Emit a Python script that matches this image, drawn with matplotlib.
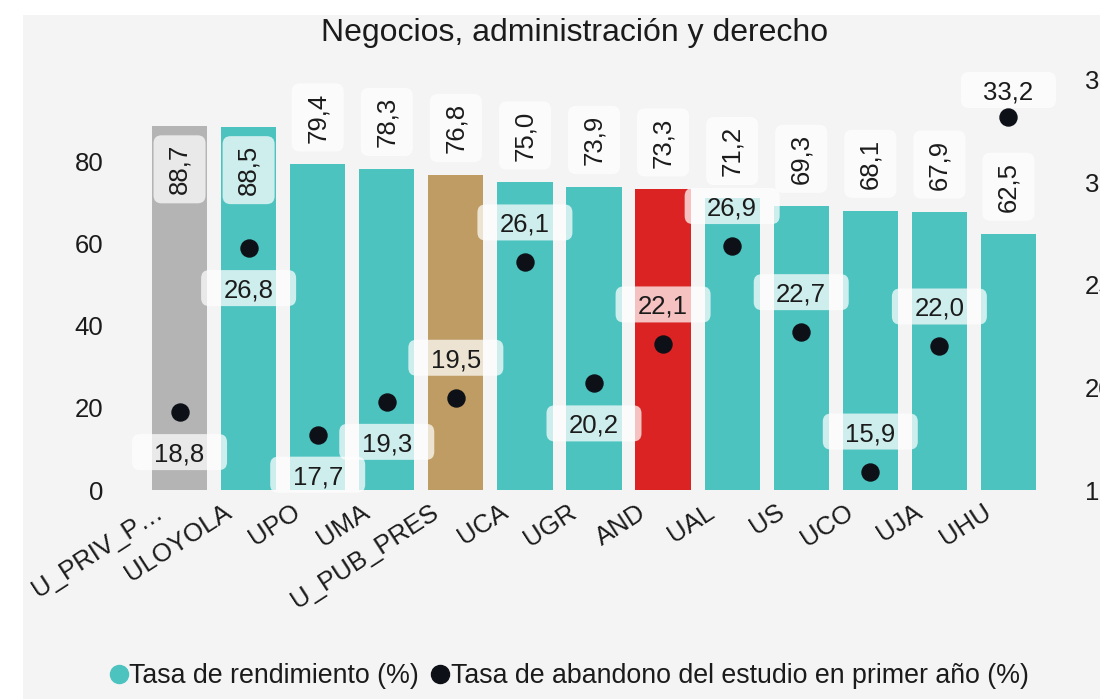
import matplotlib
matplotlib.use('Agg')
import matplotlib.pyplot as plt
import matplotlib.transforms as mtransforms
from matplotlib.patches import FancyBboxPatch, Rectangle
from matplotlib.lines import Line2D

plt.rcParams['font.family'] = ['Liberation Sans', 'DejaVu Sans']

title = 'Negocios, administración y derecho'
categories = ['U_PRIV_P…', 'ULOYOLA', 'UPO', 'UMA', 'U_PUB_PRES', 'UCA', 'UGR',
              'AND', 'UAL', 'US', 'UCO', 'UJA', 'UHU']
rendimiento = [88.7, 88.5, 79.4, 78.3, 76.8, 75.0, 73.9, 73.3, 71.2, 69.3, 68.1, 67.9, 62.5]
abandono = [18.8, 26.8, 17.7, 19.3, 19.5, 26.1, 20.2, 22.1, 26.9, 22.7, 15.9, 22.0, 33.2]

TEAL = '#4dc3c0'
bar_colors = ['#b4b4b4', TEAL, TEAL, TEAL, '#be9c63', TEAL, TEAL,
              '#dc2323', TEAL, TEAL, TEAL, TEAL, TEAL]
# where the dropout label sits relative to its dot
dot_label_side = ['below', 'below', 'below', 'below', 'above', 'above', 'below',
                  'above', 'above', 'above', 'above', 'above', 'above']

BG = '#f4f4f4'
TXT = '#1b1b1b'
FS = 18.5
DPI = 100


def fmt(v):
    return f'{v:.1f}'.replace('.', ',')


fig = plt.figure(figsize=(11, 6.99), dpi=DPI, facecolor='white')
fig.patches.append(Rectangle((23 / 1100, 0), 1, 1 - 15 / 699, transform=fig.transFigure,
                             facecolor=BG, edgecolor='none', zorder=-10))

ax = fig.add_axes([145 / 1100, 1 - 490 / 699, 898 / 1100, 418 / 699])
ax.set_facecolor('none')
ax2 = ax.twinx()
ax2.set_facecolor('none')

x = list(range(len(categories)))
ax.bar(x, rendimiento, width=0.8, color=bar_colors, zorder=1)
ax.set_xlim(-0.5, len(categories) - 0.5)
ax.set_ylim(0, 101.95)
ax2.set_ylim(15, 35.39)

ax.set_yticks([0, 20, 40, 60, 80])
ax2.set_yticks([15, 20, 25, 30, 35])
for a in (ax, ax2):
    for s in a.spines.values():
        s.set_visible(False)
ax.tick_params(axis='y', length=0, pad=30, labelsize=FS, labelcolor=TXT)
ax2.tick_params(axis='y', length=0, pad=30, labelsize=FS, labelcolor=TXT)
ax.set_xticks([])

# category labels, rotated
xshift = mtransforms.ScaledTranslation(-26 / DPI, -10 / DPI, fig.dpi_scale_trans)
for xi, c in zip(x, categories):
    ax.text(xi, 0, c, transform=ax.get_xaxis_transform() + xshift, rotation=33,
            ha='right', va='top', rotation_mode='anchor', fontsize=FS, color=TXT)


def label_box(axis, xd, yd, dy_px, w_px, h_px, text, rotation=0):
    tr = fig.dpi_scale_trans + mtransforms.ScaledTranslation(xd, yd, axis.transData)
    w, h, dy = w_px / DPI, h_px / DPI, dy_px / DPI
    axis.add_patch(FancyBboxPatch((-w / 2 + 0.08, dy - h / 2 + 0.08), w - 0.16, h - 0.16,
                                  boxstyle='round,pad=0.08', transform=tr,
                                  facecolor='white', alpha=0.72, edgecolor='none',
                                  zorder=4, clip_on=False))
    va = 'center' if rotation else 'center_baseline'
    axis.text(0, dy, text, transform=tr, ha='center', va=va,
              rotation=rotation, fontsize=FS, color=TXT, zorder=5, clip_on=False)


# bar value labels
for xi, v in zip(x, rendimiento):
    if v > 80:
        label_box(ax, xi, v, -43, 52, 68, fmt(v), rotation=90)
    else:
        label_box(ax, xi, v, 47, 52, 68, fmt(v), rotation=90)

# dropout dots
ax2.scatter(x, abandono, s=150, color='#0d1117', zorder=6, clip_on=False)
fig.canvas.draw()
top_px = ax2.transAxes.transform((0, 1))[1]
for xi, v, side in zip(x, abandono, dot_label_side):
    dy = -40 if side == 'below' else 40
    ypx = ax2.transData.transform((xi, v))[1]
    if ypx + dy + 18 > top_px:
        dy = top_px - 18 - ypx
    label_box(ax2, xi, v, dy, 95, 36, fmt(v))

fig.text(0.522, 1 - 33 / 699, title, ha='center', va='center', fontsize=23, color=TXT)

handles = [Line2D([], [], marker='o', linestyle='none', markersize=13, color=TEAL),
           Line2D([], [], marker='o', linestyle='none', markersize=13, color='#0d1117')]
fig.legend(handles, ['Tasa de rendimiento (%)', 'Tasa de abandono del estudio en primer año (%)'],
           loc='center', bbox_to_anchor=(0.518, 1 - 676 / 699), ncol=2, frameon=False,
           fontsize=19.3, handlelength=0.6, handletextpad=0.1, columnspacing=0.5,
           labelcolor=TXT)

fig.savefig('out.png', dpi=DPI, facecolor=fig.get_facecolor())
